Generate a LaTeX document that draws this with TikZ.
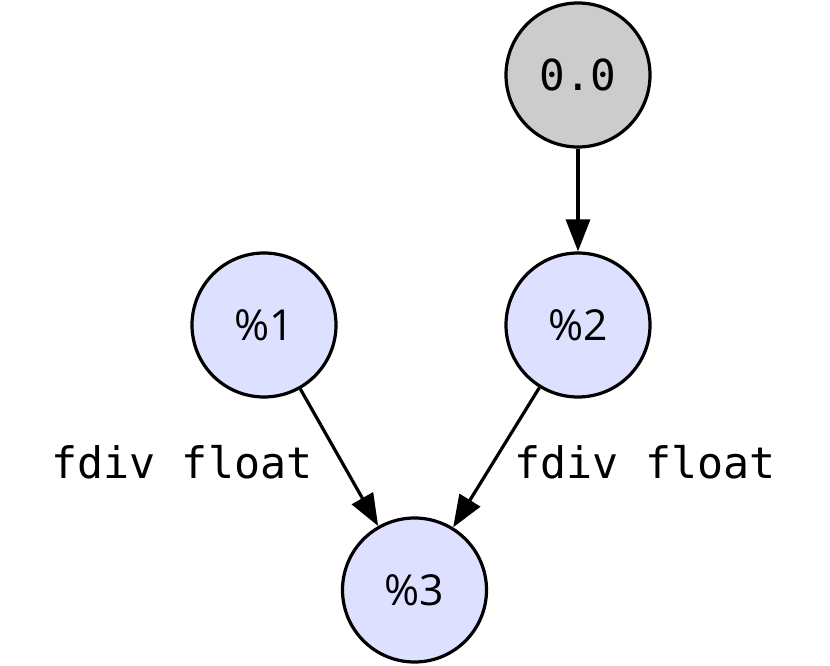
\documentclass[tikz,border=0pt]{standalone}
\usepackage{fontspec}
\newfontfamily\monof{DejaVu Sans Mono}
\newfontfamily\sansf{Open Sans}
\usetikzlibrary{arrows.meta}
\definecolor{nodeblue}{RGB}{221,225,255}
\definecolor{nodegray}{RGB}{204,204,204}
\begin{document}
\begin{tikzpicture}[x=0.75pt,y=-0.75pt,
  vnode/.style={circle,draw=black,line width=2.4pt,minimum size=144*0.75pt,inner sep=0pt,fill=nodeblue,font=\sansf\fontsize{32}{36}\selectfont},
  cnode/.style={vnode,fill=nodegray,font=\monof\fontsize{32}{36}\selectfont},
  edge/.style={line width=2.4pt,-{Triangle[length=24pt,width=18pt]}},
  elabel/.style={font=\monof\fontsize{32.5}{36}\selectfont,inner sep=0pt}]
\useasboundingbox (0,0) rectangle (830,666);
\node[cnode] (c) at (578,75) {0.0};
\node[vnode] (n1) at (264,325) {\%1};
\node[vnode] (n2) at (578,325) {\%2};
\node[vnode] (n3) at (414.5,590) {\%3};
\draw[edge] (c) -- (n2);
\draw[edge] (n1) -- (n3);
\draw[edge] (n2) -- (n3);
\node[elabel] (l1) at (182,462) {fdiv float};
\node[elabel] (l2) at (645,462) {fdiv float};
\end{tikzpicture}
\end{document}
